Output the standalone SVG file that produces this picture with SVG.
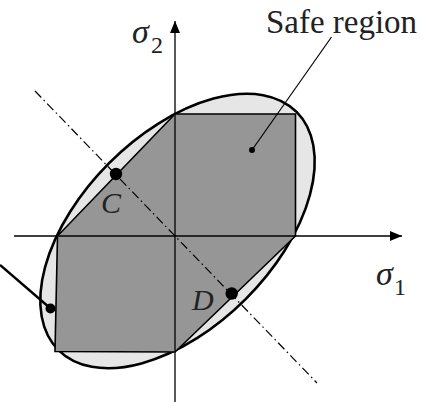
<svg xmlns="http://www.w3.org/2000/svg" width="423" height="402" viewBox="0 0 423 402">
<style>
.ax{stroke:#000;stroke-width:1.3;fill:none}
.lbl{font-family:"Liberation Serif","Times New Roman",serif;fill:#222}
.it{font-style:italic}
</style>
<defs>
<marker id="arr" viewBox="0 0 12 10" refX="12" refY="5" markerWidth="12" markerHeight="10" markerUnits="userSpaceOnUse" orient="auto">
<path d="M0,0 L12,5 L0,10 Z" fill="#000"/>
</marker>
</defs>
<rect width="423" height="402" fill="#fff"/>
<g id="ellipse">
<ellipse cx="177.5" cy="231" rx="168.4" ry="96.4" transform="rotate(-45 177.5 231)" fill="#e6e6e6" stroke="#000" stroke-width="2.6"/>
</g>
<g id="safe-region">
<polygon points="175,114 295.5,114 295.5,236 175,352 55,351.5 57.5,236" fill="#969696" stroke="#000" stroke-width="1.6" stroke-linejoin="miter"/>
</g>
<g id="axes">
<line class="ax" x1="14" y1="236" x2="402" y2="236" marker-end="url(#arr)"/>
<line class="ax" x1="175" y1="402" x2="175" y2="21" marker-end="url(#arr)"/>
<text class="lbl it" x="376" y="285" font-size="34">σ</text>
<text class="lbl" x="394" y="295" font-size="24">1</text>
<text class="lbl it" x="132" y="43" font-size="34">σ</text>
<text class="lbl" x="151" y="53" font-size="24">2</text>
</g>
<g id="symmetry-line">
<line x1="35" y1="91" x2="317" y2="383" stroke="#000" stroke-width="1.2" stroke-dasharray="9 3.5 1.5 3.5"/>
</g>
<g id="point-C">
<circle cx="116" cy="174" r="6.2" fill="#000"/>
<text class="lbl it" x="101" y="213" font-size="30" fill="#333">C</text>
</g>
<g id="point-D">
<circle cx="231.7" cy="293.5" r="6.2" fill="#000"/>
<text class="lbl it" x="192" y="310" font-size="30" fill="#333">D</text>
</g>
<g id="label-safe">
<text class="lbl" x="266" y="33" font-size="33" textLength="151">Safe region</text>
</g>
<g id="connectors">
<line x1="331.5" y1="37" x2="252" y2="150" stroke="#000" stroke-width="1.2"/>
<circle cx="252" cy="150" r="3" fill="#000"/>
<line x1="0" y1="265" x2="50" y2="308" stroke="#000" stroke-width="2.4"/>
<circle cx="50.5" cy="308.5" r="5" fill="#000"/>
</g>
</svg>
